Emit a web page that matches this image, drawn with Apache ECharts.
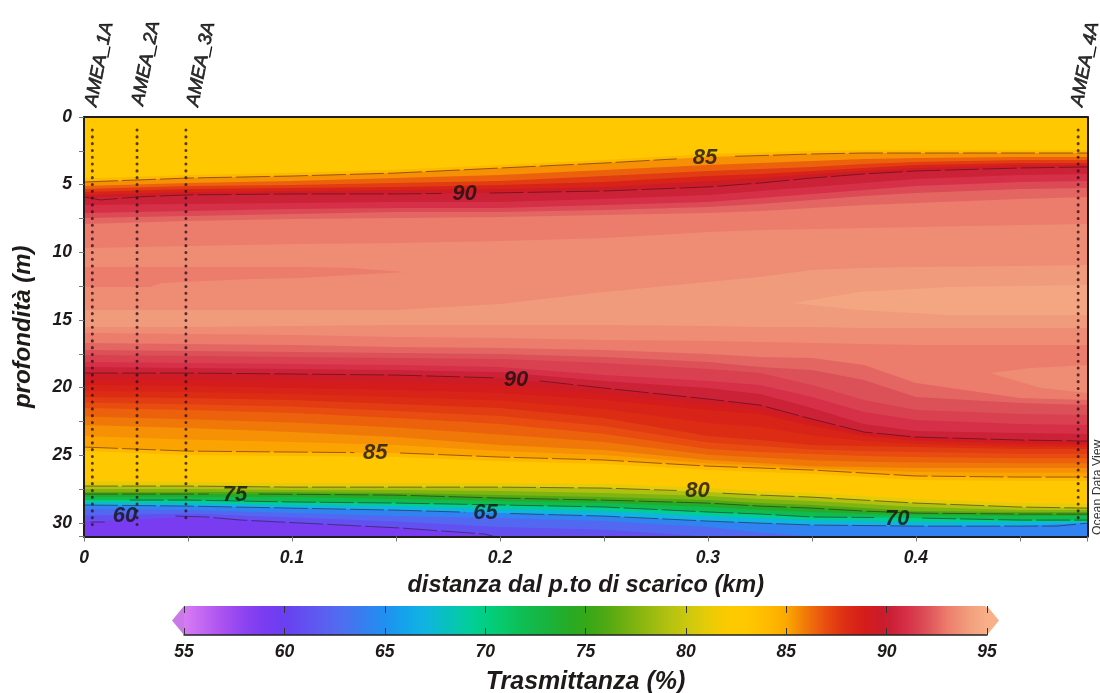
<!DOCTYPE html>
<html><head><meta charset="utf-8">
<style>html,body{margin:0;padding:0;background:#fff}#c{width:1100px;height:693px;filter:blur(0.5px)}</style>
<script src="https://cdn.jsdelivr.net/npm/echarts@6/dist/echarts.min.js"></script>
</head><body><div id="c"></div>
<script>
// distance along section (km) shared by every isoline
const distanceKm = [0,.05,.1,.15,.2,.25,.3,.325,.35,.375,.4,.45,.4825];
const maxDistance = .4825, maxDepth = 31;

// isoline depths (m), surface to sea floor
const iso84Top = [4.55,4.28,4.12,3.9,3.55,3.18,2.74,2.62,2.5,2.45,2.45,2.45,2.45];
const iso85Top = [4.80,4.51,4.36,4.14,3.77,3.40,2.96,2.85,2.73,2.66,2.66,2.66,2.66];
const iso86Top = [5.10,4.88,4.73,4.51,4.29,3.92,3.55,3.40,3.25,3.10,3.03,2.96,2.96];
const iso87Top = [5.32,5.10,5.03,4.88,4.73,4.36,3.99,3.84,3.70,3.47,3.33,3.18,3.18];
const iso88Top = [5.54,5.32,5.25,5.17,5.03,4.80,4.36,4.21,3.99,3.77,3.55,3.40,3.40];
const iso89Top = [5.76,5.54,5.47,5.40,5.32,5.17,4.73,4.51,4.21,3.99,3.77,3.55,3.55];
const iso90Top = [5.99,5.76,5.69,5.69,5.62,5.47,5.17,4.88,4.51,4.21,3.99,3.77,3.69];
const iso91Top = [6.50,6.43,6.36,6.28,6.28,6.06,5.76,5.47,5.17,4.88,4.58,4.29,4.21];
const iso92Top = [7.10,6.95,6.80,6.73,6.73,6.50,6.28,5.99,5.69,5.40,5.10,4.80,4.73];
const iso925Top = [7.46,7.32,7.17,7.02,7.02,6.87,6.65,6.43,6.13,5.84,5.62,5.32,5.25];
const iso93Top = [7.91,7.69,7.54,7.46,7.39,7.24,7.10,6.95,6.73,6.50,6.36,6.06,5.91];
const iso935Top = [9.68,9.53,9.39,9.31,9.16,8.94,8.50,8.35,8.28,8.20,8.13,7.98,7.91];
const iso94Top = [14.26,14.26,14.26,14.26,13.82,12.93,12.19,11.83,11.31,11.16,11.09,11.01,10.94];
const iso94Bot = [15.52,15.52,15.45,15.37,15.37,15.37,15.45,15.52,15.52,15.59,15.59,15.59,15.59];
const iso935Bot = [15.96,16.04,16.11,16.26,16.33,16.48,16.56,16.63,16.70,16.78,16.85,16.85,16.85];
const iso93Bot = [16.70,16.78,16.85,17.00,17.07,17.22,17.52,17.74,17.81,18.33,19.66,20.77,20.92];
const iso925Bot = [17.22,17.29,17.37,17.44,17.52,17.74,18.11,18.48,18.70,19.44,20.69,21.14,21.29];
const iso92Bot = [17.59,17.66,17.74,17.81,17.89,18.18,18.63,18.92,19.81,20.92,21.66,21.95,22.03];
const iso915Bot = [18.11,18.18,18.26,18.33,18.48,19.07,19.51,19.81,20.69,21.80,22.39,22.69,22.76];
const iso91Bot = [18.48,18.55,18.63,18.70,18.85,19.51,20.03,20.47,21.51,22.69,23.21,23.36,23.43];
const iso90Bot = [18.92,18.92,18.99,19.07,19.29,20.03,20.84,21.29,22.32,23.28,23.65,23.87,23.95];
const iso895Bot = [19.36,19.40,19.51,19.62,19.85,20.47,21.25,21.62,22.58,23.43,23.80,24.02,24.10];
const iso89Bot = [19.81,19.88,20.03,20.18,20.40,20.92,21.66,21.95,22.84,23.58,23.95,24.17,24.24];
const iso885Bot = [20.25,20.32,20.47,20.70,20.95,21.58,22.62,22.91,23.54,23.95,24.17,24.36,24.39];
const iso88Bot = [20.69,20.77,20.92,21.21,21.51,22.25,23.58,23.87,24.24,24.32,24.39,24.54,24.54];
const iso875Bot = [21.10,21.22,21.40,21.73,22.10,22.84,24.06,24.32,24.58,24.69,24.76,24.88,24.88];
const iso87Bot = [21.51,21.66,21.88,22.25,22.69,23.43,24.54,24.76,24.91,25.06,25.13,25.21,25.21];
const iso865Bot = [22.14,22.33,22.58,22.95,23.47,24.02,24.95,25.17,25.36,25.47,25.54,25.58,25.58];
const iso86Bot = [22.76,22.99,23.28,23.65,24.24,24.61,25.35,25.57,25.80,25.87,25.94,25.94,25.94];
const iso855Bot = [23.58,23.84,24.02,24.24,24.69,24.98,25.58,25.76,25.95,26.09,26.24,26.28,26.28];
const iso85Bot = [24.39,24.69,24.76,24.83,25.13,25.35,25.80,25.94,26.09,26.31,26.53,26.61,26.61];
const iso84Bot = [24.69,24.98,25.06,25.13,25.43,25.65,26.09,26.24,26.39,26.61,26.83,26.90,26.90];
const iso82Bot = [26.90,26.98,27.05,27.05,27.05,27.12,27.42,27.64,27.79,28.01,28.23,28.53,28.60];
const iso80Bot = [27.27,27.27,27.35,27.35,27.35,27.42,27.72,27.94,28.09,28.31,28.53,28.82,28.90];
const iso78Bot = [27.49,27.49,27.57,27.57,27.64,27.79,28.01,28.23,28.38,28.60,28.82,29.05,29.05];
const iso76Bot = [27.72,27.72,27.72,27.79,27.94,28.09,28.31,28.53,28.67,28.90,29.12,29.19,29.19];
const iso75Bot = [27.86,27.86,27.86,27.94,28.16,28.31,28.53,28.75,28.90,29.12,29.27,29.34,29.34];
const iso72Bot = [28.08,28.08,28.08,28.23,28.38,28.53,28.82,29.05,29.19,29.34,29.42,29.49,29.49];
const iso70Bot = [28.31,28.31,28.45,28.53,28.67,28.82,29.19,29.34,29.56,29.56,29.64,29.79,29.79];
const iso67Bot = [28.49,28.53,28.67,28.75,28.97,29.12,29.49,29.64,29.79,29.86,29.93,29.93,29.93];
const iso65Bot = [28.67,28.75,28.90,29.05,29.27,29.49,29.86,30.01,30.15,30.15,30.23,30.23,30.01];
const iso62Bot = [28.97,29.05,29.27,29.49,29.64,29.86,30.30,30.70,31,31,31,31,31];
const iso61Bot = [29.45,29.30,29.60,29.90,30.30,30.50,31,31,31,31,31,31,31];
const iso60Bot = [29.93,29.56,30.01,30.37,30.97,31,31,31,31,31,31,31,31];

// transmittance of the layer lying under each isoline, and that isoline
const layerValues = [84.2,85.5,86.5,87.5,88.5,89.5,90.3,91,91.8,92.5,93,93.5,94,93.5,93,92.5,92,91.5,91,90.3,89.5,89,88.5,88,87.5,87,86.5,86,85.5,85.1,84.2,83,81,79,77.5,76,74,72,69.5,67,64.2,62.5,61,59];
const layerEdges = [iso84Top,iso85Top,iso86Top,iso87Top,iso88Top,iso89Top,iso90Top,iso91Top,iso92Top,iso925Top,iso93Top,iso935Top,iso94Top,iso94Bot,iso935Bot,iso93Bot,iso925Bot,iso92Bot,iso915Bot,iso91Bot,iso90Bot,iso895Bot,iso89Bot,iso885Bot,iso88Bot,iso875Bot,iso87Bot,iso865Bot,iso86Bot,iso855Bot,iso85Bot,iso84Bot,iso82Bot,iso80Bot,iso78Bot,iso76Bot,iso75Bot,iso72Bot,iso70Bot,iso67Bot,iso65Bot,iso62Bot,iso61Bot,iso60Bot];
const surfaceValue = 83;

// closed patches of the field, [km, m]
const patchStripe = [[0,11.09],[.032,11.09],[.08,11.09],[.104,11.09],[.128,11.16],[.154,11.46],[.128,11.68],[.104,11.90],[.08,11.97],[.037,12.27],[.032,12.56],[0,12.56]];
const patchCore = [[.341,13.75],[.373,12.93],[.416,12.56],[.4825,12.42],[.4825,14.63],[.416,14.63],[.373,14.26]];
const patchLower = [[.4356,18.92],[.455,18.55],[.4825,18.33],[.4825,20.40],[.46,20.03]];
const patchValues = [93,94.5,93.5];
const patchShapes = [patchStripe,patchCore,patchLower];

// contour lines, null depth = gap round the label
const contour85a = [[0,4.80],[.05,4.51],[.1,4.36],[.15,4.14],[.2,3.77],[.25,3.40],[.285,3.09],[.3,null],[.313,2.90],[.325,2.85],[.35,2.73],[.375,2.66],[.4,2.66],[.45,2.66],[.4825,2.66]];
const contour90a = [[0,5.91],[.008,6.13],[.025,5.91],[.05,5.76],[.1,5.69],[.15,5.69],[.172,5.65],[.183,null],[.195,5.62],[.25,5.47],[.3,5.17],[.325,4.88],[.35,4.51],[.375,4.21],[.4,3.99],[.45,3.77],[.4825,3.69]];
const contour90b = [[0,18.92],[.05,18.92],[.1,18.99],[.15,19.07],[.197,19.27],[.208,null],[.219,19.5],[.25,20.03],[.3,20.84],[.325,21.29],[.35,22.32],[.375,23.28],[.4,23.65],[.45,23.87],[.4825,23.95]];
const contour85b = [[0,24.39],[.05,24.69],[.1,24.76],[.13,24.80],[.14,null],[.152,24.83],[.2,25.13],[.25,25.35],[.3,25.8],[.325,25.94],[.35,26.09],[.375,26.31],[.4,26.53],[.45,26.61],[.4825,26.61]];
const contour80 = [[0,27.27],[.05,27.27],[.1,27.35],[.15,27.35],[.2,27.35],[.25,27.42],[.285,27.6],[.295,null],[.307,27.8],[.325,27.94],[.35,28.09],[.375,28.31],[.4,28.53],[.45,28.82],[.4825,28.9]];
const contour75 = [[0,27.86],[.06,27.86],[.072,null],[.084,27.86],[.15,27.94],[.2,28.16],[.25,28.31],[.3,28.53],[.325,28.75],[.35,28.9],[.375,29.12],[.4,29.27],[.45,29.34],[.4825,29.34]];
const contour70 = [[.022,28.31],[.05,28.31],[.1,28.45],[.15,28.53],[.2,28.67],[.25,28.82],[.3,29.19],[.325,29.34],[.35,29.56],[.38,29.6],[.39,null],[.403,29.64],[.45,29.79],[.4825,29.79]];
const contour65 = [[0,28.67],[.05,28.75],[.1,28.9],[.15,29.05],[.183,29.2],[.193,null],[.205,29.3],[.25,29.49],[.3,29.86],[.325,30.01],[.35,30.15],[.4,30.23],[.45,30.23],[.468,30.23],[.4825,30.01]];
const contour60 = [[.003,29.93],[.01,29.93],[.02,null],[.044,29.49],[.059,29.56],[.075,29.78],[.104,30.0],[.152,30.37],[.193,30.82],[.197,31]];
const contourLines = [contour85a,contour90a,contour90b,contour85b,contour80,contour75,contour70,contour65,contour60];

const contourLabels = [[.2986,3.03,85],[.183,5.69,90],[.2077,19.44,90],[.14,24.83,85],[.0726,27.94,75],[.0197,29.49,60],[.193,29.27,65],[.295,27.64,80],[.391,29.71,70]];

const stationNames = ['AMEA_1A','AMEA_2A','AMEA_3A','AMEA_4A'];
const stationKm = [.004,.0255,.049,.478];
const stationEnd = [30.5,30.5,30,30];
const stationStart = .96;

const ramp = ['#d87cf4','#c065f2','#a850f0','#8c44f0','#7a3cf0','#6a3ef0','#6250f0','#5a60f0','#4c70f0','#3480f0','#2090f0','#14a4ec','#10b4e0','#08c0c0','#04cca0','#00d084','#08c868','#10bc50','#18b440','#24ac28','#34a818','#50a814','#70b010','#90b810','#b0c010','#c8c810','#e4cc08','#fcca00','#ffc800','#ffbc00','#fca800','#f07808','#e84c10','#dc2c14','#d41c1c','#c81c30','#d63048','#dc5058','#ec7c6c','#f09c7c','#f8b088'];

const font = '"Liberation Sans", Arial, sans-serif';
const ink = '#1e1a1a';
const bi = {fontFamily:font,fontStyle:'italic',fontWeight:'bold',color:ink};

const polys = [[[0,0],[maxDistance,0],[maxDistance,maxDepth],[0,maxDepth]]];
const polyValues = [surfaceValue];
layerEdges.forEach((edge,i)=>{
  const p = edge.map((d,j)=>[distanceKm[j],d]);
  p.push([maxDistance,maxDepth],[0,maxDepth]);
  polys.push(p); polyValues.push(layerValues[i]);
});
patchShapes.forEach((p,i)=>{polys.push(p); polyValues.push(patchValues[i]);});

const series = [{
  type:'custom', coordinateSystem:'cartesian2d', xAxisIndex:0, yAxisIndex:0, z:1, silent:true,
  data: polyValues.map((v,i)=>[v,i]),
  encode:{value:0},
  renderItem:(params,api)=>({
    type:'polygon',
    shape:{points:polys[api.value(1)].map(p=>api.coord(p))},
    style:{fill:api.visual('color')}
  })
}];
contourLines.forEach(c=>series.push({
  type:'line', xAxisIndex:0, yAxisIndex:0, data:c, showSymbol:false, connectNulls:false, silent:true, z:3,
  lineStyle:{width:1,color:'rgba(45,10,25,0.5)',type:[34,4]}
}));
stationNames.forEach((n,i)=>series.push({
  type:'line', xAxisIndex:0, yAxisIndex:0, showSymbol:false, silent:true, z:4, clip:false,
  data:[[stationKm[i],stationStart],[stationKm[i],stationEnd[i]]],
  lineStyle:{width:3,color:'rgba(45,20,30,0.8)',type:[0.1,6.7],cap:'round'}
}));
series.push({
  type:'scatter', xAxisIndex:0, yAxisIndex:0, symbolSize:0, silent:true, z:5, clip:false,
  data:contourLabels.map(l=>[l[0],l[1],l[2]]),
  label:{show:true,position:'inside',formatter:p=>p.value[2],fontSize:22,...bi,color:'#171212'}
});
const labelShift = [[-1,-11],[1,-12],[7,-11],[-1,-11]];
series.push({
  type:'scatter', xAxisIndex:0, yAxisIndex:0, symbolSize:0, silent:true, z:5, clip:false,
  data:stationNames.map((n,i)=>({
    name:n, value:[stationKm[i],0],
    label:{show:true,position:labelShift[i],formatter:n,rotate:79,align:'left',verticalAlign:'middle',
      fontFamily:font,fontStyle:'italic',fontSize:18.5,color:'#000',textBorderColor:'#000',textBorderWidth:0.7}
  }))
});
series.push({
  type:'custom', coordinateSystem:'cartesian2d', xAxisIndex:2, yAxisIndex:2, silent:true, z:5, clip:false,
  data:[[55,0,-1],[95,0,1]],
  renderItem:(params,api)=>{
    const c = api.coord([api.value(0),.5]), dir = api.value(2), s = api.size([0,1])[1]/2;
    return {type:'polygon',shape:{points:[[c[0],c[1]-s],[c[0]+dir*12,c[1]],[c[0],c[1]+s]]},
      style:{fill:dir<0?'#c97ae6':'#f8b088'}};
  }
});

const frameAxis = {axisLabel:{show:false},axisTick:{show:false},splitLine:{show:false},axisLine:{show:true,onZero:false,lineStyle:{color:'#221c1c',width:2}},z:6};
const chart = echarts.init(document.getElementById('c'),null,{renderer:'canvas'});
chart.setOption({
  animation:false, backgroundColor:'#fff',
  grid:[{left:84,top:117,width:1003.5,height:419.5,outerBoundsMode:'none'},{left:184,top:606,width:803,height:29,outerBoundsMode:'none'}],
  xAxis:[
    {type:'value',gridIndex:0,min:0,max:maxDistance,interval:.1,position:'bottom',z:6,
     name:'distanza dal p.to di scarico (km)',nameLocation:'middle',nameGap:38,nameTextStyle:{...bi,fontSize:23.5},
     axisLine:{show:true,onZero:false,lineStyle:{color:'#221c1c',width:2}},
     axisTick:{show:true,length:5,lineStyle:{color:'#777'}},
     minorTick:{show:true,splitNumber:2,length:5,lineStyle:{color:'#777'}},
     splitLine:{show:false},
     axisLabel:{...bi,fontSize:17.5,margin:13,showMaxLabel:false,formatter:v=>String(v)}},
    {type:'value',gridIndex:0,min:0,max:maxDistance,position:'top',...frameAxis},
    {type:'value',gridIndex:1,min:55,max:95,interval:5,position:'bottom',z:8,
     name:'Trasmittanza (%)',nameLocation:'middle',nameGap:35,nameTextStyle:{...bi,fontSize:25},
     axisLine:{show:true,onZero:false,lineStyle:{color:'#222',width:1.5}},
     axisTick:{show:true,inside:true,length:7,lineStyle:{color:'#333'}},
     splitLine:{show:false},
     axisLabel:{...bi,fontSize:17.5,margin:8,showMinLabel:true,showMaxLabel:true}},
    {type:'value',gridIndex:1,min:55,max:95,interval:5,position:'top',z:8,
     axisLine:{show:false,onZero:false},
     axisTick:{show:true,inside:true,length:7,lineStyle:{color:'#333'}},
     splitLine:{show:false},axisLabel:{show:false}}
  ],
  yAxis:[
    {type:'value',gridIndex:0,min:0,max:maxDepth,interval:5,inverse:true,position:'left',z:6,
     name:'profondità (m)',nameLocation:'middle',nameGap:49,nameTextStyle:{...bi,fontSize:24},
     axisLine:{show:true,onZero:false,lineStyle:{color:'#221c1c',width:2}},
     axisTick:{show:true,length:5,lineStyle:{color:'#777'}},
     minorTick:{show:true,splitNumber:2,length:5,lineStyle:{color:'#777'}},
     splitLine:{show:false},
     axisLabel:{...bi,fontSize:17.5,margin:12,showMaxLabel:false}},
    {type:'value',gridIndex:0,min:0,max:maxDepth,inverse:true,position:'right',...frameAxis},
    {type:'value',gridIndex:1,min:0,max:1,show:false}
  ],
  visualMap:{
    type:'continuous',show:true,seriesIndex:0,dimension:0,min:55,max:95,orient:'horizontal',
    left:184,top:606,itemWidth:29,itemHeight:803,padding:0,text:null,calculable:false,hoverLink:false,
    showLabel:false,realtime:false,inRange:{color:ramp},textStyle:{fontSize:0}
  },
  graphic:[{type:'text',silent:true,x:1092,y:535,rotation:Math.PI/2,
    style:{text:'Ocean Data View',fontFamily:font,fontSize:12.3,fill:'#333',textAlign:'left',textVerticalAlign:'top'}}],
  series
});
</script></body></html>
